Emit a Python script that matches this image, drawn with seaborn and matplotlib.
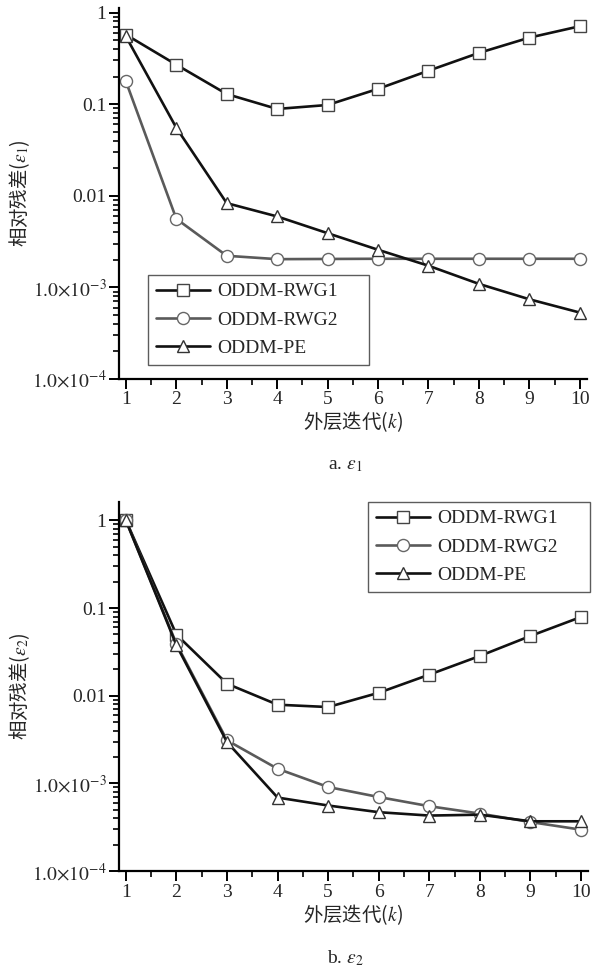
import numpy as np
import seaborn as sns
import matplotlib
import matplotlib.pyplot as plt
from matplotlib.ticker import FixedLocator, MultipleLocator, LogLocator, NullFormatter

sns.set_style('ticks')
plt.rcParams['font.family'] = ['Liberation Serif', 'Noto Sans CJK SC']
plt.rcParams['mathtext.fontset'] = 'stix'

# data
k = [1, 2, 3, 4, 5, 6, 7, 8, 9, 10]
labels = ['ODDM-RWG1', 'ODDM-RWG2', 'ODDM-PE']

# a. epsilon_1
e1_rwg1 = [0.575, 0.27, 0.129, 0.0887, 0.098, 0.147, 0.232, 0.363, 0.533, 0.71]
e1_rwg2 = [0.178, 0.0056, 0.00221, 0.00203, 0.00204, 0.00205, 0.00205, 0.00205, 0.00205, 0.00205]
e1_pe = [0.55, 0.0553, 0.0083, 0.00594, 0.0039, 0.00257, 0.00172, 0.00109, 0.00074, 0.00053]

# b. epsilon_2
e2_rwg1 = [1.0, 0.0497, 0.0137, 0.0079, 0.00743, 0.0108, 0.0174, 0.0284, 0.048, 0.079]
e2_rwg2 = [1.0, 0.039, 0.0031, 0.00147, 0.00091, 0.0007, 0.00055, 0.000453, 0.000363, 0.000297]
e2_pe = [1.0, 0.0376, 0.00296, 0.00069, 0.00056, 0.00047, 0.00043, 0.00044, 0.00037, 0.00037]

ytick_vals = [1e-4, 1e-3, 1e-2, 1e-1, 1]
ytick_labels = [r'$1.0{\times}10^{-4}$', r'$1.0{\times}10^{-3}$', '0.01', '0.1', '1']

styles = [dict(marker='s', color='#111111', markeredgecolor='#444444'),
          dict(marker='o', color='#5a5a5a', markeredgecolor='#666666'),
          dict(marker='^', color='#111111', markeredgecolor='#333333')]

cjk = ['Noto Sans CJK SC', 'Liberation Serif']

fig = plt.figure(figsize=(5.97, 9.69), dpi=100)
ax1 = fig.add_axes([0.199, 0.609, 0.784, 0.383])
ax2 = fig.add_axes([0.199, 0.101, 0.786, 0.381])


def draw(ax, series, ylab, ytop, legend_kw):
    for vals, lab, st in zip(series, labels, styles):
        sns.lineplot(x=k, y=vals, ax=ax, label=lab, linewidth=1.9,
                     markersize=8.7, markerfacecolor='white', markeredgewidth=1.0,
                     **st)
    ax.set_yscale('log')
    ax.set_ylim(1e-4, ytop)
    ax.set_xlim(0.86, 10.14)
    ax.yaxis.set_major_locator(FixedLocator(ytick_vals))
    ax.set_yticklabels(ytick_labels)
    ax.yaxis.set_minor_locator(LogLocator(base=10, subs=np.arange(2, 10)))
    ax.yaxis.set_minor_formatter(NullFormatter())
    ax.xaxis.set_major_locator(MultipleLocator(1))
    ax.xaxis.set_minor_locator(MultipleLocator(0.5))
    for s in ['top', 'right']:
        ax.spines[s].set_visible(False)
    for s in ['left', 'bottom']:
        ax.spines[s].set_linewidth(1.6)
        ax.spines[s].set_color('black')
    ax.tick_params(axis='both', which='major', direction='out', length=7, width=1.4,
                   labelsize=14, color='black', pad=2)
    ax.tick_params(axis='both', which='minor', direction='out', length=4, width=1.2,
                   color='black')
    ax.set_ylabel(ylab, fontsize=14, family=cjk)
    ax.set_xlabel('外层迭代($k$)', fontsize=14, family=cjk)
    ax.yaxis.set_label_coords(-0.185, 0.5)
    ax.xaxis.set_label_coords(0.5, -0.083)
    leg = ax.legend(fontsize=14, frameon=True, fancybox=False, handlelength=2.8,
                    handletextpad=0.35, labelspacing=0.55, borderpad=0.4,
                    borderaxespad=0, mode='expand', **legend_kw)
    leg.get_frame().set_edgecolor('#333333')
    leg.get_frame().set_linewidth(1.0)


draw(ax1, [e1_rwg1, e1_rwg2, e1_pe], '相对残差($\\varepsilon_1$)', 1.13,
     dict(loc='lower left', bbox_to_anchor=(0.062, 0.038, 0.472, 0.2)))
draw(ax2, [e2_rwg1, e2_rwg2, e2_pe], '相对残差($\\varepsilon_2$)', 1.62,
     dict(loc='upper left', bbox_to_anchor=(0.531, 0.8, 0.473, 0.2)))

fig.text(0.578, 1 - 465 / 969, 'a. $\\varepsilon_1$', ha='center', va='center', fontsize=14)
fig.text(0.578, 11 / 969, 'b. $\\varepsilon_2$', ha='center', va='center', fontsize=14)

fig.savefig('out.png', dpi=100)
